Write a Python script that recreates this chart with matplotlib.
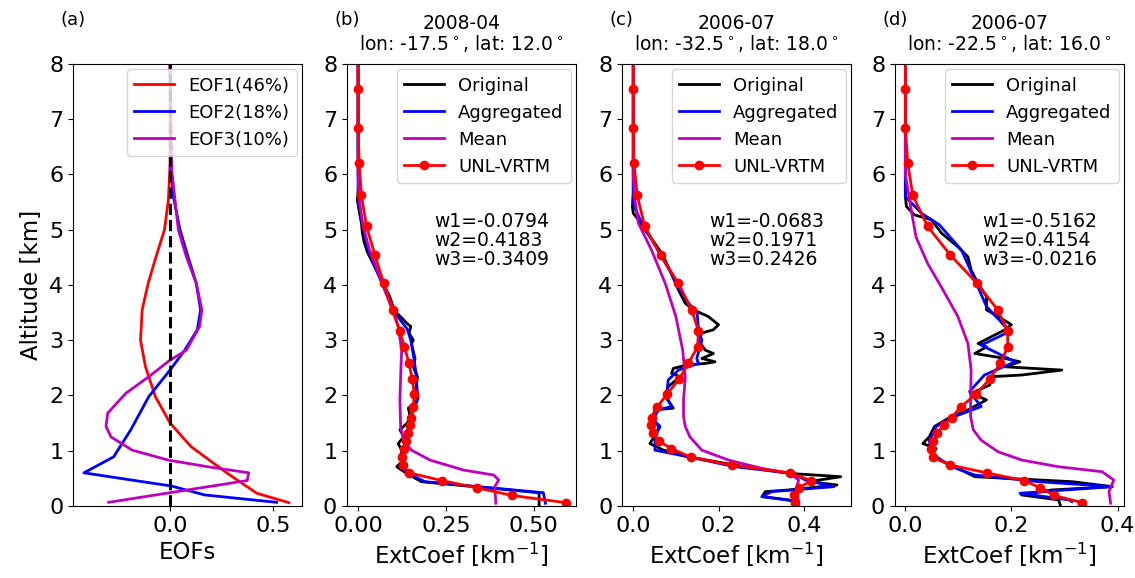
import matplotlib
matplotlib.use('Agg')
import matplotlib.pyplot as plt

# ---- panel (a): leading EOFs of the extinction profiles ----
eof1_z = [8.0, 6.2, 5.54, 5.0, 4.51, 4.03, 3.55, 3.0, 2.52, 1.98, 1.50, 1.07, 0.59, 0.23, 0.06]
eof1_v = [0, 0, -0.008, -0.027, -0.068, -0.106, -0.135, -0.143, -0.119, -0.071, 0.0, 0.103, 0.278, 0.42, 0.575]
eof2_z = [8.0, 6.14, 5.6, 5.0, 4.51, 4.03, 3.55, 3.19, 2.82, 2.46, 1.98, 1.38, 0.89, 0.60, 0.36, 0.20, 0.066]
eof2_v = [0, 0.005, 0.016, 0.048, 0.087, 0.127, 0.148, 0.132, 0.071, 0.0, -0.103, -0.19, -0.273, -0.417, 0.008, 0.167, 0.516]
eof3_z = [8.0, 6.08, 5.0, 4.51, 4.03, 3.55, 3.25, 2.82, 2.64, 2.34, 2.04, 1.68, 1.44, 1.25, 1.01, 0.83, 0.71, 0.60, 0.46, 0.066]
eof3_v = [0, 0.008, 0.04, 0.079, 0.127, 0.154, 0.143, 0.079, 0.0, -0.103, -0.214, -0.302, -0.31, -0.286, -0.183, -0.008, 0.183, 0.381, 0.373, -0.297]
eof_labels = ['EOF1(46%)', 'EOF2(18%)', 'EOF3(10%)']

# ---- panels (b)-(d): case profiles ----
titles = ['2008-04\nlon: -17.5$^\\circ$, lat: 12.0$^\\circ$',
          '2006-07\nlon: -32.5$^\\circ$, lat: 18.0$^\\circ$',
          '2006-07\nlon: -22.5$^\\circ$, lat: 16.0$^\\circ$']
weights = ['w1=-0.0794\nw2=0.4183\nw3=-0.3409',
           'w1=-0.0683\nw2=0.1971\nw3=0.2426',
           'w1=-0.5162\nw2=0.4154\nw3=-0.0216']

# original (high resolution) profiles
orig_z_b = [8.0, 6.5, 5.8, 5.54, 5.3, 5.12, 4.95, 4.78, 4.6, 4.51, 4.27, 4.03, 3.79, 3.6, 3.49, 3.4, 3.31, 3.25,
            3.13, 3.0, 2.94, 2.85, 2.67, 2.5, 2.34, 2.15, 1.95, 1.85, 1.77, 1.62, 1.5, 1.38, 1.25, 1.13, 1.0,
            0.89, 0.8, 0.71, 0.59, 0.44, 0.24, 0.02]
orig_v_b = [0, 0.0, 0.001, -0.002, 0.004, 0.0095, 0.012, 0.017, 0.026, 0.033, 0.052, 0.071, 0.09, 0.10, 0.11,
            0.125, 0.138, 0.150, 0.145, 0.157, 0.152, 0.155, 0.162, 0.158, 0.169, 0.165, 0.171, 0.160, 0.143,
            0.148, 0.14, 0.119, 0.13, 0.114, 0.125, 0.119, 0.124, 0.11, 0.138, 0.18, 0.515, 0.515]
orig_z_c = [8.0, 5.7, 5.42, 5.30, 5.18, 5.0, 4.75, 4.57, 4.27, 3.91, 3.67, 3.55, 3.43, 3.28, 3.19, 3.13, 3.0,
            2.82, 2.76, 2.67, 2.61, 2.58, 2.55, 2.49, 2.4, 2.34, 2.16, 1.98, 1.77, 1.74, 1.56, 1.44, 1.32, 1.13,
            1.01, 0.89, 0.74, 0.59, 0.53, 0.44, 0.38, 0.29, 0.26, 0.17, 0.11, 0.05]
orig_v_c = [0, 0.0, -0.002, 0.0, 0.012, 0.027, 0.051, 0.067, 0.086, 0.106, 0.122, 0.141, 0.176, 0.2, 0.188,
            0.161, 0.153, 0.169, 0.188, 0.161, 0.192, 0.169, 0.125, 0.094, 0.09, 0.11, 0.082, 0.075, 0.094,
            0.051, 0.043, 0.06, 0.055, 0.039, 0.071, 0.129, 0.239, 0.365, 0.487, 0.412, 0.478, 0.365, 0.31,
            0.302, 0.365, 0.38]
orig_z_d = [8.0, 5.6, 5.42, 5.27, 5.18, 4.94, 4.69, 4.51, 4.27, 4.03, 3.79, 3.55, 3.43, 3.28, 3.19, 2.94,
            2.88, 2.76, 2.67, 2.61, 2.52, 2.46, 2.37, 2.34, 2.19, 2.04, 1.92, 1.74, 1.62, 1.44, 1.25, 1.13,
            1.04, 0.89, 0.77, 0.53, 0.44, 0.35, 0.29, 0.2, 0.11, 0.02]
orig_v_d = [0, 0, 0.002, 0.017, 0.049, 0.068, 0.099, 0.118, 0.124, 0.137, 0.153, 0.153, 0.175, 0.2, 0.188,
            0.137, 0.153, 0.131, 0.188, 0.216, 0.188, 0.295, 0.219, 0.162, 0.159, 0.124, 0.153, 0.118, 0.087,
            0.055, 0.045, 0.033, 0.058, 0.049, 0.08, 0.131, 0.314, 0.39, 0.276, 0.219, 0.289, 0.292]

# aggregated profiles
agg_z_b = [8.0, 5.8, 5.5, 5.2, 4.9, 4.6, 4.3, 4.0, 3.7, 3.45, 3.2, 3.0, 2.7, 2.4, 2.1, 1.9, 1.7, 1.5, 1.3,
           1.1, 0.9, 0.7, 0.6, 0.44, 0.24, 0.05]
agg_v_b = [0, 0.0, 0.002, 0.01, 0.02, 0.03, 0.05, 0.07, 0.09, 0.11, 0.14, 0.15, 0.158, 0.165, 0.168, 0.168,
           0.155, 0.148, 0.135, 0.135, 0.128, 0.125, 0.14, 0.19, 0.527, 0.533]
agg_z_c = [8.0, 5.7, 5.45, 5.2, 5.0, 4.6, 4.2, 3.9, 3.67, 3.49, 3.19, 3.0, 2.67, 2.58, 2.46, 2.28, 1.98, 1.8,
           1.74, 1.56, 1.44, 1.25, 1.01, 0.89, 0.71, 0.59, 0.47, 0.35, 0.26, 0.17, 0.08]
agg_v_c = [0, 0.0, 0.001, 0.015, 0.03, 0.06, 0.09, 0.11, 0.13, 0.15, 0.153, 0.161, 0.149, 0.153, 0.106,
           0.082, 0.078, 0.09, 0.059, 0.047, 0.063, 0.051, 0.051, 0.129, 0.239, 0.373, 0.404, 0.471, 0.325,
           0.302, 0.388]
agg_z_d = [8.0, 5.6, 5.3, 5.09, 4.63, 4.09, 3.61, 3.16, 2.91, 2.61, 2.37, 2.07, 1.8, 1.62, 1.44, 1.19, 0.95,
           0.71, 0.56, 0.44, 0.35, 0.23, 0.11, 0.08]
agg_v_d = [0, 0, 0.03, 0.064, 0.106, 0.131, 0.153, 0.197, 0.143, 0.207, 0.149, 0.121, 0.143, 0.093, 0.058,
           0.045, 0.049, 0.087, 0.131, 0.251, 0.39, 0.216, 0.308, 0.314]

# mean profiles
mean_z_b = [8.0, 6.0, 5.5, 5.06, 4.63, 4.15, 3.67, 3.25, 2.82, 2.52, 1.92, 1.44, 1.19, 1.01, 0.83, 0.65,
            0.56, 0.47, 0.35, 0.05]
mean_v_b = [0, 0.0, 0.004, 0.014, 0.033, 0.062, 0.09, 0.114, 0.124, 0.122, 0.119, 0.121, 0.129, 0.152, 0.205,
            0.3, 0.386, 0.4, 0.389, 0.392]
mean_z_c = [8.0, 6.0, 5.6, 5.12, 4.63, 4.03, 3.43, 2.82, 2.34, 1.92, 1.62, 1.44, 1.25, 1.01, 0.83, 0.68,
            0.59, 0.47, 0.35, 0.05]
mean_v_c = [0, 0, 0.003, 0.012, 0.043, 0.075, 0.1, 0.116, 0.122, 0.118, 0.118, 0.122, 0.133, 0.161, 0.224,
            0.302, 0.367, 0.388, 0.384, 0.388]
mean_z_d = [8.0, 6.0, 5.36, 4.87, 4.39, 3.91, 3.43, 2.94, 2.46, 1.92, 1.62, 1.38, 1.19, 0.98, 0.83, 0.71,
            0.62, 0.47, 0.26, 0.05]
mean_v_d = [0, 0.0, 0.011, 0.02, 0.042, 0.071, 0.099, 0.118, 0.124, 0.123, 0.123, 0.128, 0.143, 0.175, 0.22,
            0.289, 0.371, 0.393, 0.384, 0.387]

# UNL-VRTM layers
vrtm_z = [0.06, 0.19, 0.33, 0.46, 0.60, 0.74, 0.88, 1.04, 1.17, 1.32, 1.46, 1.60, 1.79, 2.03, 2.30, 2.58,
          2.88, 3.17, 3.55, 4.03, 4.54, 5.06, 5.62, 6.21, 6.85, 7.54, 8.30]
vrtm_b = [0.591, 0.438, 0.338, 0.238, 0.145, 0.127, 0.124, 0.13, 0.135, 0.143, 0.148, 0.15, 0.157, 0.16,
          0.154, 0.145, 0.132, 0.118, 0.1, 0.073, 0.048, 0.024, 0.0095, 0.003, 0.0, 0.0, 0.0]
vrtm_c = [0.379, 0.376, 0.39, 0.417, 0.367, 0.231, 0.136, 0.089, 0.061, 0.047, 0.041, 0.043, 0.056, 0.08,
          0.108, 0.129, 0.151, 0.153, 0.137, 0.106, 0.064, 0.027, 0.0094, 0.0016, 0, 0, 0]
vrtm_d = [0.333, 0.281, 0.254, 0.224, 0.153, 0.085, 0.052, 0.049, 0.052, 0.06, 0.072, 0.087, 0.104, 0.134,
          0.159, 0.179, 0.193, 0.193, 0.174, 0.135, 0.085, 0.042, 0.014, 0.0044, 0, 0, 0]

cases = [
    (orig_z_b, orig_v_b, agg_z_b, agg_v_b, mean_z_b, mean_v_b, vrtm_b, [0, 0.25, 0.5], ['0.00', '0.25', '0.50']),
    (orig_z_c, orig_v_c, agg_z_c, agg_v_c, mean_z_c, mean_v_c, vrtm_c, [0, 0.2, 0.4], ['0.0', '0.2', '0.4']),
    (orig_z_d, orig_v_d, agg_z_d, agg_v_d, mean_z_d, mean_v_d, vrtm_d, [0, 0.2, 0.4], ['0.0', '0.2', '0.4']),
]
panel_tags = ['(a)', '(b)', '(c)', '(d)']

fig = plt.figure(figsize=(11.35, 5.78), dpi=100)
lefts = [0.0643, 0.3057, 0.548, 0.7885]
axes = [fig.add_axes([l, 0.1246, 0.202, 0.7647]) for l in lefts]

# Panel (a)
ax = axes[0]
ax.plot(eof1_v, eof1_z, color='r', lw=2, label=eof_labels[0])
ax.plot(eof2_v, eof2_z, color='b', lw=2, label=eof_labels[1])
ax.plot(eof3_v, eof3_z, color='m', lw=2, label=eof_labels[2])
ax.axvline(0, color='k', ls='--', lw=2.2)
ax.set_xlim(-0.47, 0.64)
ax.set_xticks([0, 0.5])
ax.set_xticklabels(['0.0', '0.5'])
ax.set_xlabel('EOFs', fontsize=16.5)
ax.set_ylabel('Altitude [km]', fontsize=16.5)
ax.legend(loc='upper right', fontsize=13, handlelength=2.2, borderaxespad=0.3)

# Panels (b)-(d)
for i, (oz, ov, az, av, mz, mv, vv, ticks, ticklabels) in enumerate(cases):
    ax = axes[i + 1]
    ax.plot(ov, oz, color='k', lw=2, label='Original')
    ax.plot(av, az, color='b', lw=2, label='Aggregated')
    ax.plot(mv, mz, color='m', lw=2, label='Mean')
    ax.plot(vv, vrtm_z, color='r', lw=2, marker='o', ms=6, label='UNL-VRTM')
    ax.set_xticks(ticks)
    ax.set_xticklabels(ticklabels)
    ax.set_xlabel('ExtCoef [km$^{-1}$]', fontsize=16.5)
    ax.set_title(titles[i], fontsize=13.5, pad=10, linespacing=1.0)
    ax.text(0.38, 0.665, weights[i], transform=ax.transAxes, fontsize=13.5, va='top', linespacing=1.0)
    ax.legend(loc='upper right', fontsize=13, handlelength=2.2, borderaxespad=0.3)

for i, ax in enumerate(axes):
    ax.set_ylim(0, 8)
    ax.set_yticks(range(0, 9))
    ax.tick_params(labelsize=16)
    fig.text(lefts[i] - 0.011, 0.965, panel_tags[i], fontsize=13, va='center', ha='left')

plt.savefig('out.png', dpi=100)
